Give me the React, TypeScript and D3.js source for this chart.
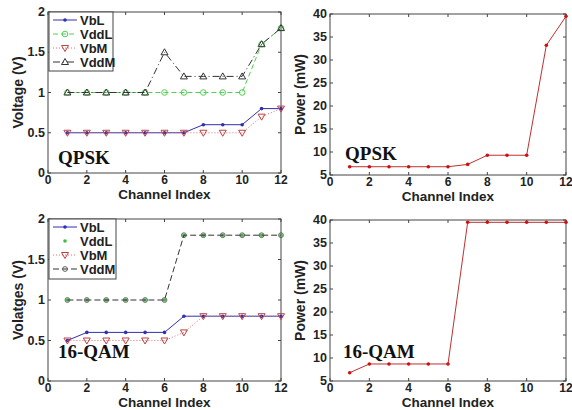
import React, { useEffect, useRef } from 'react';
import * as d3 from 'd3';

const channels = [1, 2, 3, 4, 5, 6, 7, 8, 9, 10, 11, 12];

// QPSK voltages
const qpskVbL = [0.5, 0.5, 0.5, 0.5, 0.5, 0.5, 0.5, 0.6, 0.6, 0.6, 0.8, 0.8];
const qpskVddL = [1, 1, 1, 1, 1, 1, 1, 1, 1, 1, 1.6, 1.8];
const qpskVbM = [0.5, 0.5, 0.5, 0.5, 0.5, 0.5, 0.5, 0.5, 0.5, 0.5, 0.7, 0.8];
const qpskVddM = [1, 1, 1, 1, 1, 1.5, 1.2, 1.2, 1.2, 1.2, 1.6, 1.8];
const qpskPower = [6.8, 6.8, 6.8, 6.8, 6.8, 6.8, 7.3, 9.3, 9.3, 9.3, 33.2, 39.5];

// 16-QAM voltages
const qamVbL = [0.5, 0.6, 0.6, 0.6, 0.6, 0.6, 0.8, 0.8, 0.8, 0.8, 0.8, 0.8];
const qamVddL = [1, 1, 1, 1, 1, 1, 1.8, 1.8, 1.8, 1.8, 1.8, 1.8];
const qamVbM = [0.5, 0.5, 0.5, 0.5, 0.5, 0.5, 0.6, 0.8, 0.8, 0.8, 0.8, 0.8];
const qamVddM = [1, 1, 1, 1, 1, 1, 1.8, 1.8, 1.8, 1.8, 1.8, 1.8];
const qamPower = [6.8, 8.7, 8.7, 8.7, 8.7, 8.7, 39.5, 39.5, 39.5, 39.5, 39.5, 39.5];

const xTicks = [0, 2, 4, 6, 8, 10, 12];
const voltTicks = [0, 0.5, 1, 1.5, 2];
const powerTicks = [5, 10, 15, 20, 25, 30, 35, 40];

type Series = {
  name: string;
  values: number[];
  color: string;
  dash: string | null;
  marker: 'dot' | 'circle' | 'tri' | 'tridown' | 'ring';
  mColor: string;
};

const FONT = 'Liberation Sans, Arial, sans-serif';

function drawPanel(
  g: d3.Selection<SVGGElement, unknown, null, undefined>,
  box: { x0: number; x1: number; y0: number; y1: number },
  yDomain: [number, number],
  yTicks: number[],
  yLabel: string,
  series: Series[],
  tag: { text: string; x: number; y: number },
  legend: { w: number; h: number } | null
) {
  const x = d3.scaleLinear().domain([0, 12]).range([box.x0, box.x1]);
  const y = d3.scaleLinear().domain(yDomain).range([box.y1, box.y0]);

  // frame
  g.append('rect')
    .attr('x', box.x0).attr('y', box.y0)
    .attr('width', box.x1 - box.x0).attr('height', box.y1 - box.y0)
    .attr('fill', 'white').attr('stroke', '#444').attr('stroke-width', 1);

  // inward ticks
  xTicks.forEach((t) => {
    g.append('line').attr('x1', x(t)).attr('x2', x(t)).attr('y1', box.y1).attr('y2', box.y1 - 3).attr('stroke', '#444');
    g.append('line').attr('x1', x(t)).attr('x2', x(t)).attr('y1', box.y0).attr('y2', box.y0 + 3).attr('stroke', '#444');
    g.append('text').attr('x', x(t)).attr('y', box.y1 + 11)
      .attr('text-anchor', 'middle').attr('font-family', FONT).attr('font-weight', 'bold')
      .attr('font-size', 12).attr('fill', '#222').text(t);
  });
  yTicks.forEach((t) => {
    g.append('line').attr('x1', box.x0).attr('x2', box.x0 + 3).attr('y1', y(t)).attr('y2', y(t)).attr('stroke', '#444');
    g.append('line').attr('x1', box.x1).attr('x2', box.x1 - 3).attr('y1', y(t)).attr('y2', y(t)).attr('stroke', '#444');
    g.append('text').attr('x', box.x0 - 3).attr('y', y(t) + 4)
      .attr('text-anchor', 'end').attr('font-family', FONT).attr('font-weight', 'bold')
      .attr('font-size', 12.5).attr('fill', '#222').text(t);
  });

  // axis labels
  g.append('text').attr('x', (box.x0 + box.x1) / 2).attr('y', box.y1 + 26)
    .attr('text-anchor', 'middle').attr('font-family', FONT).attr('font-weight', 'bold')
    .attr('font-size', 13.5).attr('fill', '#222').text('Channel Index');
  g.append('text')
    .attr('transform', `translate(${box.x0 - 25},${(box.y0 + box.y1) / 2}) rotate(-90)`)
    .attr('text-anchor', 'middle').attr('font-family', FONT).attr('font-weight', 'bold')
    .attr('font-size', 14).attr('fill', '#222').text(yLabel);

  const line = d3.line<number>().x((_, i) => x(channels[i])).y((d) => y(d));

  const drawMarker = (sel: d3.Selection<SVGGElement, unknown, null, undefined>, s: Series, cx: number, cy: number) => {
    if (s.marker === 'dot') {
      sel.append('circle').attr('cx', cx).attr('cy', cy).attr('r', 1.8).attr('fill', s.mColor);
    } else if (s.marker === 'circle') {
      sel.append('circle').attr('cx', cx).attr('cy', cy).attr('r', 2.8).attr('fill', 'none').attr('stroke', s.mColor).attr('stroke-width', 1);
    } else if (s.marker === 'ring') {
      sel.append('circle').attr('cx', cx).attr('cy', cy).attr('r', 2.4).attr('fill', 'none').attr('stroke', s.mColor).attr('stroke-width', 0.9);
    } else if (s.marker === 'tri') {
      sel.append('path').attr('d', `M${cx},${cy - 3.5}L${cx + 3.5},${cy + 2.5}L${cx - 3.5},${cy + 2.5}Z`)
        .attr('fill', 'none').attr('stroke', s.mColor).attr('stroke-width', 1);
    } else {
      sel.append('path').attr('d', `M${cx},${cy + 3.5}L${cx + 3.5},${cy - 2.5}L${cx - 3.5},${cy - 2.5}Z`)
        .attr('fill', 'none').attr('stroke', s.mColor).attr('stroke-width', 1);
    }
  };

  series.forEach((s) => {
    if (s.dash !== 'none') {
      g.append('path').attr('d', line(s.values)!).attr('fill', 'none')
        .attr('stroke', s.color).attr('stroke-width', 1)
        .attr('stroke-dasharray', s.dash ?? null);
    }
    s.values.forEach((v, i) => drawMarker(g, s, x(channels[i]), y(v)));
  });

  // tag text
  g.append('text').attr('x', tag.x).attr('y', tag.y)
    .attr('font-family', 'Liberation Serif, Times New Roman, serif').attr('font-weight', 'bold')
    .attr('font-size', 19).attr('fill', '#111').text(tag.text);

  if (legend) {
    const lx = box.x0 + 1;
    const ly = box.y0;
    g.append('rect').attr('x', lx).attr('y', ly).attr('width', legend.w).attr('height', legend.h)
      .attr('fill', 'white').attr('stroke', '#444');
    series.forEach((s, i) => {
      const cy = ly + 8 + i * 14;
      if (s.dash !== 'none') {
        g.append('line').attr('x1', lx + 4).attr('x2', lx + 28).attr('y1', cy).attr('y2', cy)
          .attr('stroke', s.color).attr('stroke-dasharray', s.dash ?? null);
      }
      drawMarker(g, s, lx + 16, cy);
      g.append('text').attr('x', lx + 31).attr('y', cy + 5).attr('font-family', FONT)
        .attr('font-weight', 'bold').attr('font-size', 13).attr('fill', '#222').text(s.name);
    });
  }
}

export default function App() {
  const ref = useRef<SVGSVGElement>(null);

  useEffect(() => {
    if (!ref.current) return;
    const svg = d3.select(ref.current);
    svg.selectAll('*').remove();

    const qpskSeries: Series[] = [
      { name: 'VbL', values: qpskVbL, color: '#3030b0', dash: null, marker: 'dot', mColor: '#3030b0' },
      { name: 'VddL', values: qpskVddL, color: '#50d050', dash: '5,3', marker: 'circle', mColor: '#50d050' },
      { name: 'VbM', values: qpskVbM, color: '#e07070', dash: '1,2', marker: 'tridown', mColor: '#c04040' },
      { name: 'VddM', values: qpskVddM, color: '#333', dash: '7,3,1,3', marker: 'tri', mColor: '#333' },
    ];
    const qamSeries: Series[] = [
      { name: 'VbL', values: qamVbL, color: '#3030b0', dash: null, marker: 'dot', mColor: '#3030b0' },
      { name: 'VddL', values: qamVddL, color: '#50d050', dash: 'none', marker: 'dot', mColor: '#40c040' },
      { name: 'VbM', values: qamVbM, color: '#e07070', dash: '1,2', marker: 'tridown', mColor: '#c04040' },
      { name: 'VddM', values: qamVddM, color: '#333', dash: '6,3', marker: 'ring', mColor: '#555' },
    ];
    const powerStyle = (vals: number[]): Series[] => [
      { name: 'P', values: vals, color: '#c03030', dash: null, marker: 'dot', mColor: '#d01010' },
    ];

    drawPanel(svg.append('g'), { x0: 48, x1: 281, y0: 12, y1: 173 }, [0, 2], voltTicks, 'Voltage (V)',
      qpskSeries, { text: 'QPSK', x: 58, y: 164 }, { w: 64, h: 59 });
    drawPanel(svg.append('g'), { x0: 330, x1: 566, y0: 14, y1: 175 }, [5, 40], powerTicks, 'Power (mW)',
      powerStyle(qpskPower), { text: 'QPSK', x: 345, y: 160 }, null);
    drawPanel(svg.append('g'), { x0: 48, x1: 281, y0: 219, y1: 381 }, [0, 2], voltTicks, 'Volatges (V)',
      qamSeries, { text: '16-QAM', x: 58, y: 358 }, { w: 67, h: 60 });
    drawPanel(svg.append('g'), { x0: 330, x1: 566, y0: 220, y1: 381 }, [5, 40], powerTicks, 'Power (mW)',
      powerStyle(qamPower), { text: '16-QAM', x: 343, y: 358 }, null);
  }, []);

  return (
    <svg ref={ref} width={572} height={410} style={{ position: 'absolute', left: 0, top: 0, background: 'white' }} />
  );
}
